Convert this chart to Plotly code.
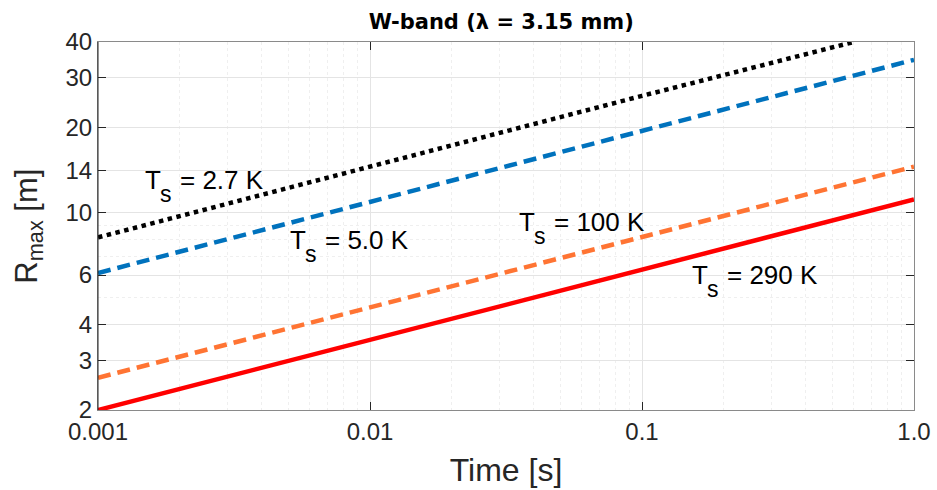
import math
import plotly.graph_objects as go

# Integration time [s]
time = [0.001, 0.01, 0.1, 1.0]
time_cold = [0.001, 0.01, 0.1, 0.6]

# Maximum range [m] for each source temperature
r_290k = [2.0, 3.55, 6.3, 11.1]
r_100k = [2.6, 4.6, 8.2, 14.5]
r_5k = [6.1, 10.9, 19.4, 34.6]
r_2_7k = [8.15, 14.5, 25.8, 40.0]

x_ticks = [0.001, 0.01, 0.1, 1.0]
x_tick_labels = ["0.001", "0.01", "0.1", "1.0"]
y_ticks = [2, 3, 4, 6, 10, 14, 20, 30, 40]
y_tick_labels = ["2", "3", "4", "6", "10", "14", "20", "30", "40"]

# Curve labels: "T" with a large subscript "s", then the temperature
label_temps = ["= 2.7 K", "= 5.0 K", "= 100 K", "= 290 K"]
label_x = [0.00146, 0.0050, 0.0347, 0.150]
label_y = [12.98, 7.97, 9.22, 6.0]

FONT = "Liberation Sans, Arial, Helvetica, sans-serif"
TXT = "#262626"

fig = go.Figure()
fig.add_trace(go.Scatter(x=time_cold, y=r_2_7k, mode="lines",
                         line=dict(color="#000000", width=4.5, dash="4.5px,4.5px")))
fig.add_trace(go.Scatter(x=time, y=r_5k, mode="lines",
                         line=dict(color="#0072BD", width=4.5, dash="13px,7px")))
fig.add_trace(go.Scatter(x=time, y=r_100k, mode="lines",
                         line=dict(color="#FF7433", width=4.5, dash="13px,7px")))
fig.add_trace(go.Scatter(x=time, y=r_290k, mode="lines",
                         line=dict(color="#FF0000", width=4.5)))

# annotation coordinates on log axes are given in log10 units
for temp, lx, ly in zip(label_temps, label_x, label_y):
    ax, ay = math.log10(lx), math.log10(ly)
    common = dict(x=ax, y=ay, showarrow=False, xanchor="left", yanchor="middle")
    fig.add_annotation(text="T", font=dict(family=FONT, size=26, color="#000000"),
                       **common)
    fig.add_annotation(text="s", xshift=15, yshift=-13.5,
                       font=dict(family=FONT, size=23, color="#000000"), **common)
    fig.add_annotation(text=temp, xshift=35,
                       font=dict(family=FONT, size=26, color="#000000"), **common)

# y-axis title
fig.add_annotation(text="R<sub>max</sub> [m]", xref="paper", yref="paper",
                   x=-0.085, y=0.5, xanchor="center", yanchor="middle",
                   textangle=-90, showarrow=False,
                   font=dict(family=FONT, size=31, color=TXT))

minor_x = [m * 10.0 ** e for e in (-3, -2, -1) for m in range(2, 10)]
minor_y = [5, 7, 8, 9]

fig.update_xaxes(
    type="log", range=[-3, 0], automargin=False,
    tickvals=x_ticks, ticktext=x_tick_labels,
    ticks="inside", ticklen=8, tickcolor=TXT, tickwidth=1,
    showline=True, linecolor="#8a8a8a", linewidth=1, mirror="ticks",
    showgrid=True, gridcolor="#e4e4e4", gridwidth=1,
    minor=dict(tickvals=minor_x, showgrid=True, gridcolor="#efefef",
               griddash="dot", gridwidth=1, ticks=""),
    tickfont=dict(family=FONT, size=24, color=TXT),
    title=dict(text="Time [s]", font=dict(family=FONT, size=32, color=TXT), standoff=14),
    zeroline=False,
)
fig.update_yaxes(
    type="log", range=[0.30103, 1.60206], automargin=False,
    tickvals=y_ticks, ticktext=y_tick_labels,
    ticks="inside", ticklen=8, tickcolor=TXT, tickwidth=1,
    showline=True, linecolor="#8a8a8a", linewidth=1, mirror="ticks",
    showgrid=True, gridcolor="#e4e4e4", gridwidth=1,
    minor=dict(tickvals=minor_y, showgrid=True, gridcolor="#efefef",
               griddash="dot", gridwidth=1, ticks=""),
    tickfont=dict(family=FONT, size=24, color=TXT),
    zeroline=False,
)

# darker left spine
fig.add_shape(type="line", xref="paper", yref="paper", x0=0, x1=0, y0=0, y1=1,
              line=dict(color=TXT, width=1))

fig.update_layout(
    width=937, height=490,
    margin=dict(l=98, r=23, t=42, b=80, autoexpand=False),
    paper_bgcolor="white", plot_bgcolor="white",
    showlegend=False,
    title=dict(text="<b>W-band (λ = 3.15 mm)</b>", x=0.535, xanchor="center",
               y=0.955, yanchor="middle",
               font=dict(family="DejaVu Sans, sans-serif", size=21, color="#000000")),
)

fig.write_html("out.html")
